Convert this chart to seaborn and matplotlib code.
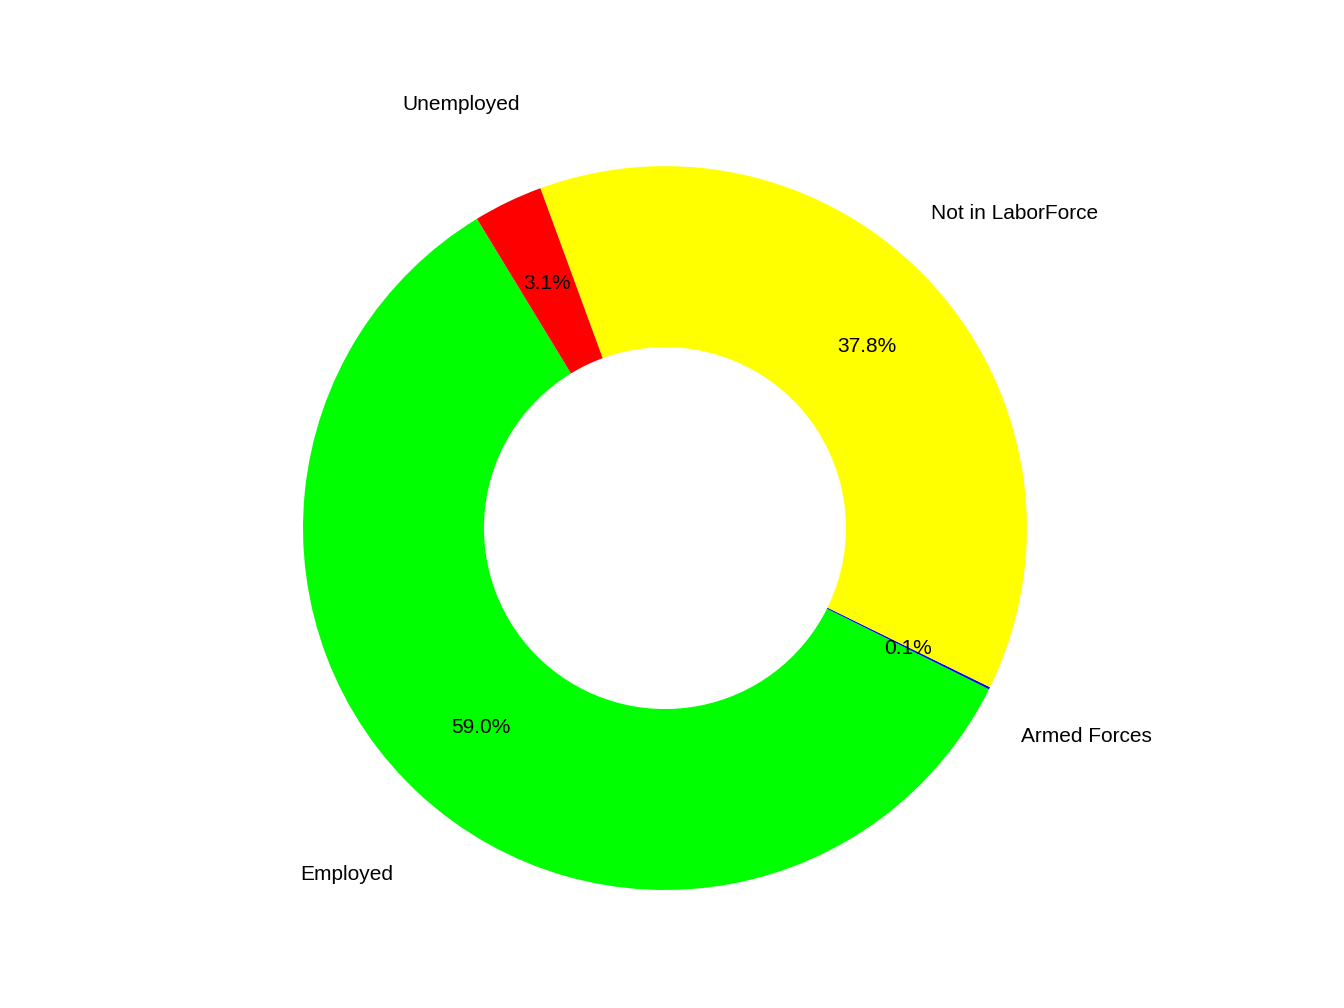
import matplotlib
matplotlib.use("Agg")
import matplotlib.pyplot as plt
import seaborn as sns

categories = ["Employed", "Armed Forces", "Not in LaborForce", "Unemployed"]
values = [58.9, 0.1, 37.8, 3.1]
colors = ["#00FF00", "#0000FF", "#FFFF00", "#FF0000"]

sns.set_theme(style="white", font="Liberation Sans")
fig = plt.figure(figsize=(13.44, 10.08), dpi=100)
ax = fig.add_axes([0, 0, 1, 1])
wedges, texts, autotexts = ax.pie(
    values, labels=categories, colors=sns.color_palette(colors),
    startangle=121.3, counterclock=True, autopct="%1.1f%%",
    pctdistance=0.75, labeldistance=1.3,
    wedgeprops=dict(width=0.5, linewidth=0),
    textprops=dict(fontsize=15, color="black"))
for t in texts:
    t.set_ha("center")
ax.set_aspect("equal")
ax.set_xlim(-1.837, 1.876)
ax.set_ylim(-1.326, 1.459)
ax.axis("off")
fig.savefig("out.png", dpi=100)
